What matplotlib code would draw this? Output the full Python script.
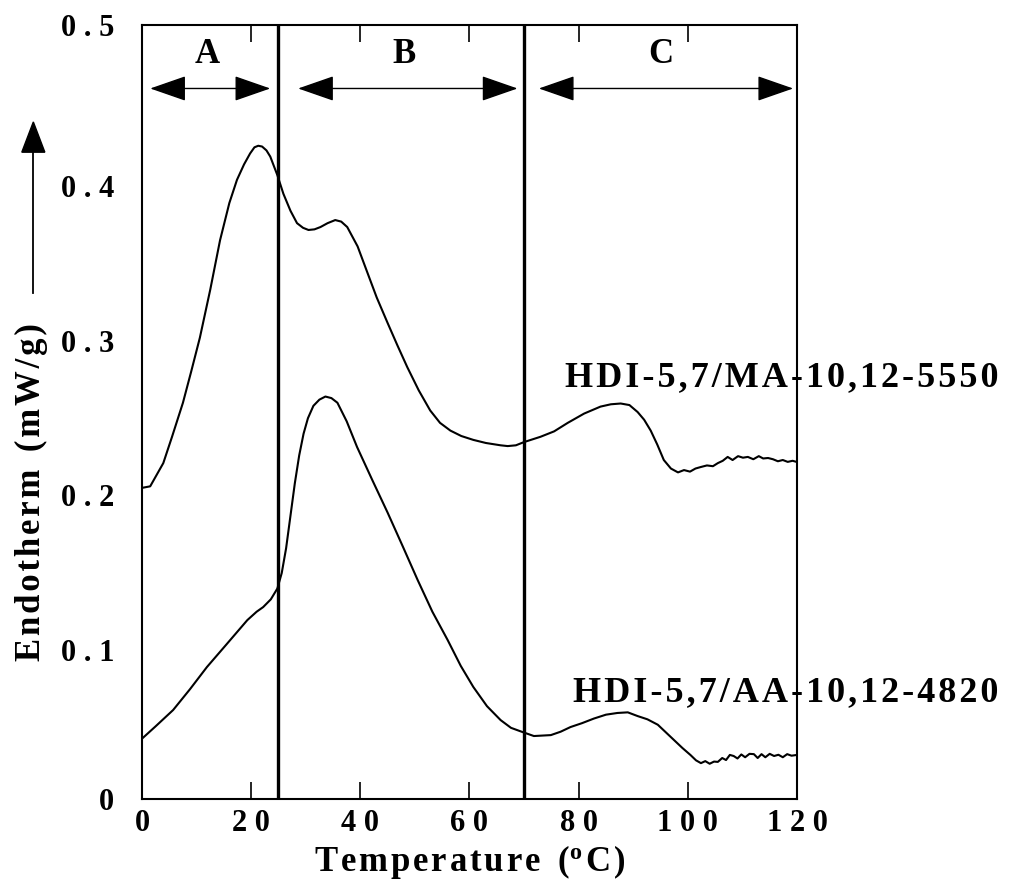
import numpy as np
import matplotlib.pyplot as plt
from matplotlib import transforms

plt.rcParams['font.family'] = ['Liberation Serif', 'DejaVu Serif']
plt.rcParams['font.weight'] = 'bold'
plt.rcParams['mathtext.default'] = 'regular'

# DSC traces read point by point (temperature in C, endotherm in mW/g)
t_ma = [0.0, 1.5, 3.9, 5.5, 7.5, 9.0, 10.6, 12.5, 14.3, 16.0, 17.4, 18.7, 19.8, 20.6,
        21.3, 22.0, 22.8, 23.5, 24.8, 25.9, 27.2, 28.4, 29.5, 30.5, 31.6, 32.7, 34.0,
        35.4, 36.5, 37.6, 39.5, 41.3, 43.0, 45.0, 46.8, 48.6, 50.7, 52.8, 54.6, 56.5,
        58.5, 60.7, 63.0, 65.7, 67.0, 68.5, 70.0, 73.0, 75.5, 78.0, 81.0, 84.0, 85.9,
        87.7, 89.3, 90.8, 92.0, 93.2, 94.4, 95.6, 96.9, 98.2, 99.3, 100.4, 101.4,
        102.4, 103.5, 104.6, 105.5, 106.4, 107.3, 108.2, 109.2, 110.1, 111.0, 112.0,
        113.0, 113.8, 114.7, 115.6, 116.5, 117.4, 118.3, 119.2, 120.0]
e_ma = [0.201, 0.202, 0.217, 0.234, 0.256, 0.276, 0.298, 0.329, 0.361, 0.385, 0.400,
        0.410, 0.417, 0.421, 0.422, 0.4215, 0.419, 0.415, 0.403, 0.391, 0.380, 0.372,
        0.369, 0.3676, 0.3680, 0.3695, 0.372, 0.374, 0.373, 0.3695, 0.357, 0.340,
        0.324, 0.3075, 0.293, 0.279, 0.264, 0.251, 0.243, 0.238, 0.2345, 0.232, 0.230,
        0.2285, 0.228, 0.2285, 0.2306, 0.234, 0.2375, 0.243, 0.249, 0.2535, 0.255,
        0.2555, 0.2545, 0.250, 0.245, 0.238, 0.229, 0.219, 0.2135, 0.211, 0.2125,
        0.2115, 0.2135, 0.2145, 0.2155, 0.2150, 0.2170, 0.2185, 0.2210, 0.2190,
        0.2215, 0.2205, 0.2210, 0.2195, 0.2215, 0.2200, 0.2203, 0.2195, 0.2182,
        0.2190, 0.2178, 0.2185, 0.2177]

t_aa = [0.0, 2.5, 5.7, 8.8, 11.9, 15.5, 19.3, 21.0, 22.2, 23.6, 24.8, 25.6, 26.4,
        27.2, 28.0, 28.8, 29.6, 30.4, 31.4, 32.5, 33.6, 34.7, 35.8, 37.5, 39.4, 42.2,
        45.0, 47.8, 50.5, 53.2, 56.0, 58.4, 60.7, 63.2, 65.7, 67.6, 69.7, 71.8, 74.9,
        76.7, 78.5, 80.6, 82.8, 85.0, 87.1, 89.0, 90.8, 92.6, 94.5, 96.0, 97.5, 99.0,
        100.5, 101.5, 102.4, 103.2, 104.0, 104.8, 105.5, 106.3, 107.0, 107.7, 108.4,
        109.1, 109.8, 110.5, 111.3, 112.1, 112.8, 113.5, 114.2, 115.0, 115.8, 116.6,
        117.4, 118.2, 119.0, 119.8]
e_aa = [0.039, 0.047, 0.0575, 0.071, 0.0853, 0.100, 0.1156, 0.121, 0.124, 0.129,
        0.136, 0.146, 0.162, 0.183, 0.204, 0.222, 0.236, 0.246, 0.254, 0.258, 0.260,
        0.259, 0.256, 0.244, 0.2274, 0.206, 0.185, 0.163, 0.1415, 0.121, 0.1027, 0.086,
        0.0724, 0.060, 0.051, 0.046, 0.0433, 0.0407, 0.0413, 0.0435, 0.0465, 0.0490,
        0.052, 0.0545, 0.0556, 0.0560, 0.0536, 0.0515, 0.048, 0.0430, 0.038, 0.0330,
        0.0284, 0.0250, 0.0232, 0.0245, 0.0228, 0.0242, 0.0240, 0.0265, 0.0252,
        0.0285, 0.0278, 0.0262, 0.0288, 0.0270, 0.0292, 0.0290, 0.0265, 0.0290,
        0.0270, 0.0292, 0.0278, 0.0286, 0.0270, 0.0290, 0.0280, 0.0284]

dividers = [25, 70]
regions = ['A', 'B', 'C']
region_spans = [(1.5, 23.5), (28.6, 68.8), (72.7, 119.3)]
region_label_x = [12, 48, 95]

x_ticks = [0, 20, 40, 60, 80, 100, 120]
x_tick_labels = ['0', '2 0', '4 0', '6 0', '8 0', '1 0 0', '1 2 0']
y_ticks = [0.0, 0.1, 0.2, 0.3, 0.4, 0.5]
y_tick_labels = ['0', '0 . 1', '0 . 2', '0 . 3', '0 . 4', '0 . 5']

HAIR = '\u200a'


def spaced(s):
    # loose tracking, as in the printed figure
    return HAIR.join(s)


fig = plt.figure(figsize=(10.1, 8.9), dpi=100)
ax = fig.add_axes([0.1406, 0.1022, 0.6485, 0.8697])

ax.plot(t_ma, e_ma, color='black', lw=1.5)
ax.plot(t_aa, e_aa, color='black', lw=1.5)

for xd in dividers:
    ax.axvline(xd, color='black', lw=2.4)

for name, (x0, x1), xl in zip(regions, region_spans, region_label_x):
    ax.annotate('', xy=(x0, 0.459), xytext=(x1, 0.459),
                arrowprops=dict(arrowstyle='<|-|>,head_length=2.3,head_width=0.8',
                                color='black', lw=1.0, shrinkA=0, shrinkB=0))
    ax.text(xl, 0.481, name, ha='center', va='center', fontsize=25, fontweight='bold')

ax.text(0.976, 0.544, spaced('HDI-5,7/MA-10,12-5550'), transform=ax.transAxes,
        ha='center', va='center', fontsize=26, fontweight='bold', clip_on=False)
ax.text(0.982, 0.137, spaced('HDI-5,7/AA-10,12-4820'), transform=ax.transAxes,
        ha='center', va='center', fontsize=26, fontweight='bold', clip_on=False)

ax.set_xlim(0, 120)
ax.set_ylim(0, 0.5)
ax.set_xticks(x_ticks)
ax.set_xticklabels(x_tick_labels, fontsize=22, fontweight='bold')
ax.set_yticks(y_ticks)
ax.set_yticklabels(y_tick_labels, fontsize=22, fontweight='bold')
ax.tick_params(axis='x', direction='in', length=12, width=1.2, top=True, pad=7)
ax.tick_params(axis='y', length=0, pad=20)
# y labels sit a little below their values
shift = transforms.ScaledTranslation(0, -6 / 100, fig.dpi_scale_trans)
for lab in ax.get_yticklabels()[1:-1]:
    lab.set_transform(lab.get_transform() + shift)
for s in ax.spines.values():
    s.set_linewidth(1.5)

ax.set_xlabel(spaced('Temperature') + '  (' + '$^{o}$' + HAIR + 'C' + HAIR + ')',
              fontsize=25, fontweight='bold', labelpad=4)
fig.text(0.031, 0.447, spaced('Endotherm') + '  ' + spaced('(mW/g)'), rotation=90,
         ha='center', va='center', fontsize=25, fontweight='bold')
fig.add_artist(plt.Line2D([0.033, 0.033], [0.671, 0.83], transform=fig.transFigure,
                          color='black', lw=1.3))
fig.patches.append(plt.Polygon([[0.0216, 0.829], [0.0444, 0.829], [0.033, 0.863]],
                               closed=True, color='black', transform=fig.transFigure))

fig.savefig('out.png', dpi=100)
